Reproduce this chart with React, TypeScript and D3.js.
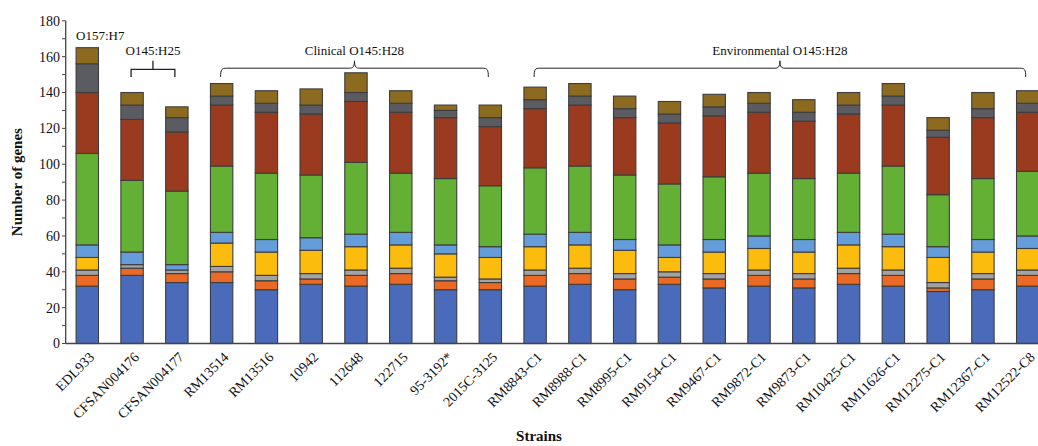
import React from "react";
import * as d3 from "d3";

const strains = ["EDL933","CFSAN004176","CFSAN004177","RM13514","RM13516","10942","112648","122715","95-3192*","2015C-3125","RM8843-C1","RM8988-C1","RM8995-C1","RM9154-C1","RM9467-C1","RM9872-C1","RM9873-C1","RM10425-C1","RM11626-C1","RM12275-C1","RM12367-C1","RM12522-C8"];

const s1 = [32,38,34,34,30,33,32,33,30,30,32,33,30,33,31,32,31,33,32,29,30,32];
const s2 = [6,4,5,6,5,3,6,6,5,4,6,6,6,4,5,6,5,6,6,2,6,6];
const s3 = [3,2,2,3,3,3,3,3,2,2,3,3,3,3,3,3,3,3,3,3,3,3];
const s4 = [7,0,0,13,13,13,13,13,13,12,13,13,13,8,12,12,12,13,13,14,12,12];
const s5 = [7,7,3,6,7,7,7,7,5,6,7,7,6,7,7,7,7,7,7,6,7,7];
const s6 = [51,40,41,37,37,35,40,33,37,34,37,37,36,34,35,35,34,33,38,29,34,36];
const s7 = [34,34,33,34,34,34,34,34,34,33,33,34,32,34,34,34,32,33,34,32,34,33];
const s8 = [16,8,8,5,5,5,5,5,4,5,5,5,5,5,5,5,5,5,5,4,5,5];
const s9 = [9,7,6,7,7,9,11,7,3,7,7,7,7,7,7,6,7,7,7,7,9,7];

const series = [s1,s2,s3,s4,s5,s6,s7,s8,s9];
const colors = ["#4a6aba","#ea6a25","#a3a3a3","#fbbc0e","#659ddb","#63b035","#9a3a1e","#5a5c62","#8c6a1f"];
const yTicks = [0,10,20,30,40,50,60,70,80,90,100,110,120,130,140,150,160,170,180];

const groups = [
  { label: "O145:H25", from: 1, to: 2, type: "square" },
  { label: "Clinical O145:H28", from: 3, to: 9, type: "curly" },
  { label: "Environmental O145:H28", from: 10, to: 21, type: "curly" },
];

const FONT = "'Liberation Serif', 'Times New Roman', serif";

export default function App() {
  const W = 1038, H = 446;
  const y = d3.scaleLinear().domain([0, 180]).range([343.5, 20.8]);
  const x = d3.scaleBand<string>().domain(strains).range([64.9, 1050.1]).paddingInner(0.5).paddingOuter(0.25);
  const bw = x.bandwidth();
  const cx = (i: number) => (x(strains[i]) as number) + bw / 2;

  const stackData = strains.map((s, i) => {
    const o: any = { strain: s };
    series.forEach((arr, k) => (o["k" + k] = arr[i]));
    return o;
  });
  const stack = d3.stack<any>().keys(series.map((_, k) => "k" + k));
  const layers = stack(stackData);

  const bracketPath = (g: any) => {
    const xl = cx(g.from) - 1;
    const xr = cx(g.to) - 2;
    const xm = (xl + xr) / 2;
    if (g.type === "square") {
      return `M${xl},77 L${xl},69.3 L${xr},69.3 L${xr},77 M${xm},69.3 L${xm},60.7`;
    }
    const yb = 77, yh = 68.2, yp = 60.8;
    return `M${xl},${yb} C${xl},${yh + 1} ${xl + 1},${yh} ${xl + 6},${yh} L${xm - 5},${yh} C${xm - 2},${yh} ${xm},${yh - 1} ${xm},${yp} C${xm},${yh - 1} ${xm + 2},${yh} ${xm + 5},${yh} L${xr - 6},${yh} C${xr - 1},${yh} ${xr},${yh + 1} ${xr},${yb}`;
  };

  return (
    <svg width={W} height={H} style={{ position: "absolute", left: 0, top: 0, background: "#fff" }} fontFamily={FONT}>
      {layers.map((layer, k) => (
        <g key={k}>
          {layer.map((d, i) =>
            d[1] - d[0] > 0 ? (
              <rect
                key={i}
                x={x(strains[i]) as number}
                y={y(d[1])}
                width={bw}
                height={y(d[0]) - y(d[1])}
                fill={colors[k]}
                stroke="#3d3d3d"
                strokeWidth={1.1}
              />
            ) : null
          )}
        </g>
      ))}
      <line x1={65.7} x2={65.7} y1={y(180)} y2={y(0)} stroke="#444" strokeWidth={1.3} />
      <line x1={65.7} x2={W} y1={y(0)} y2={y(0)} stroke="#444" strokeWidth={1.3} />
      {yTicks.map((t) => (
        <line key={t} x1={62} x2={65.7} y1={y(t)} y2={y(t)} stroke="#444" strokeWidth={1} />
      ))}
      {yTicks.filter((t) => t % 20 === 0).map((t) => (
        <text key={t} x={60} y={y(t)} dy="0.35em" textAnchor="end" fontSize={14} fill="#111">
          {t}
        </text>
      ))}
      <text transform={`translate(22,${y(90)}) rotate(-90)`} textAnchor="middle" fontSize={15} fontWeight="bold" fill="#111">
        Number of genes
      </text>
      {strains.map((s, i) => (
        <text key={s} transform={`translate(${cx(i) + 1},${351}) rotate(-45)`} textAnchor="end" dy="0.7em" fontSize={14} fill="#111">
          {s}
        </text>
      ))}
      <text x={539} y={441} textAnchor="middle" fontSize={15} fontWeight="bold" fill="#111">
        Strains
      </text>
      <text x={76} y={40} fontSize={13} fill="#111">O157:H7</text>
      {groups.map((g) => {
        const xm = (cx(g.from) - 1 + cx(g.to) - 2) / 2;
        return (
          <g key={g.label}>
            <path d={bracketPath(g)} fill="none" stroke="#222" strokeWidth={g.type === "square" ? 1.3 : 1} />
            <text x={xm} y={55} textAnchor="middle" fontSize={13} fill="#111">
              {g.label}
            </text>
          </g>
        );
      })}
    </svg>
  );
}
